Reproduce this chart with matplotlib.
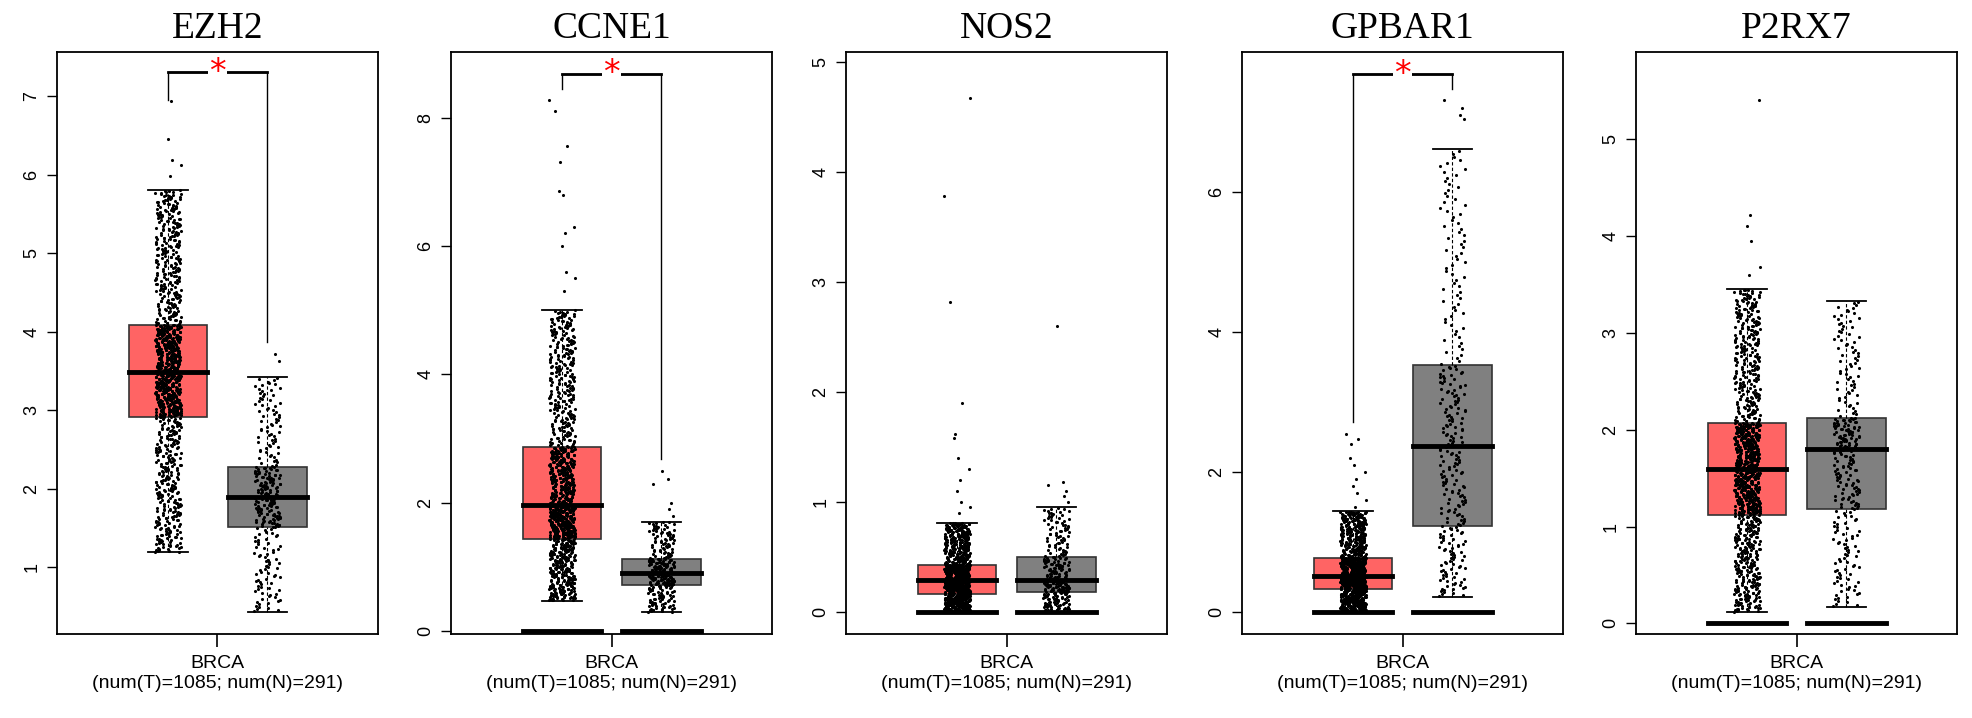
import numpy as np
import matplotlib
matplotlib.use("Agg")
import matplotlib.pyplot as plt

genes = ["EZH2", "CCNE1", "NOS2", "GPBAR1", "P2RX7"]
# five-number summaries: (low whisker, q1, median, q3, high whisker)
tumor_stats = [(1.19, 2.91, 3.49, 4.09, 5.80), (0.48, 1.44, 1.97, 2.87, 5.00),
               (0.0, 0.16, 0.29, 0.43, 0.81), (0.0, 0.33, 0.52, 0.78, 1.44),
               (0.12, 1.12, 1.59, 2.07, 3.45)]
normal_stats = [(0.43, 1.51, 1.90, 2.28, 3.42), (0.30, 0.72, 0.91, 1.13, 1.71),
                (0.0, 0.18, 0.29, 0.50, 0.95), (0.22, 1.23, 2.37, 3.53, 6.61),
                (0.17, 1.18, 1.80, 2.12, 3.33)]
tumor_outliers = [[6.94, 6.45, 6.18, 6.12, 5.98], [8.28, 8.1, 7.55, 7.3, 6.85, 6.8, 6.3, 6.2, 6.0, 5.6, 5.5, 5.3],
                  [4.67, 3.78, 2.82, 1.9, 1.62, 1.58, 1.4, 1.3, 1.2, 1.1, 1.0, 0.95, 0.9],
                  [2.54, 2.48, 2.4, 2.2, 2.1, 2.0, 1.9, 1.8, 1.7, 1.6, 1.5],
                  [5.40, 4.22, 4.1, 3.95, 3.68, 3.6]]
normal_outliers = [[3.72, 3.62], [2.5, 2.38, 2.3, 2.0, 1.9, 1.8],
                   [2.6, 1.18, 1.15, 1.1, 1.05, 1.0],
                   [7.31, 7.2, 7.1, 7.05], []]
tumor_zero = [False, True, True, True, True]
normal_zero = [False, True, True, True, True]
significant = [True, True, False, True, False]
bracket_y = [7.30, 8.68, None, 7.68, None]
bracket_left_end = [6.95, 8.45, None, 2.71, None]
bracket_right_end = [3.87, 2.69, None, 7.47, None]
ylims = [(0.15, 7.56), (-0.04, 9.02), (-0.2, 5.09), (-0.31, 8.0), (-0.11, 5.9)]
yticks = [[1, 2, 3, 4, 5, 6, 7], [0, 2, 4, 6, 8], [0, 1, 2, 3, 4, 5], [0, 2, 4, 6], [0, 1, 2, 3, 4, 5]]
n_tumor, n_normal = 1085, 291
xlabel = "BRCA\n(num(T)=1085; num(N)=291)"

pos_T, pos_N, bw = 0.346, 0.655, 0.245

def sample(stats, n, outl):
    lo, q1, med, q3, hi = stats
    p = (np.arange(n - len(outl)) + 0.5) / (n - len(outl))
    v = np.interp(p, [0, 0.25, 0.5, 0.75, 1.0], [lo, q1, med, q3, hi])
    return np.concatenate([v, outl])

fig = plt.figure(figsize=(19.72, 7.18), dpi=100)
lefts = [57, 451, 846, 1242, 1636]
top_px, bot_px = 52, 634
for i, g in enumerate(genes):
    ax = fig.add_axes([lefts[i] / 1972, 1 - bot_px / 718, 321 / 1972, (bot_px - top_px) / 718])
    for pos, st, n, outl, col, zero in [(pos_T, tumor_stats[i], n_tumor, tumor_outliers[i], "#ff6464", tumor_zero[i]),
                                       (pos_N, normal_stats[i], n_normal, normal_outliers[i], "#808080", normal_zero[i])]:
        lo, q1, med, q3, hi = st
        ax.add_patch(plt.Rectangle((pos - bw / 2, q1), bw, q3 - q1, facecolor=col, edgecolor="#333333", lw=1.2, zorder=1))
        ax.plot([pos - bw / 2, pos + bw / 2], [med, med], color="black", lw=3.5, zorder=3)
        ax.plot([pos, pos], [q3, hi], color="black", lw=0.8, ls=(0, (3, 2)), zorder=1)
        ax.plot([pos, pos], [lo, q1], color="black", lw=0.8, ls=(0, (3, 2)), zorder=1)
        ax.plot([pos - bw / 4, pos + bw / 4], [hi, hi], color="black", lw=1.3, zorder=3)
        ax.plot([pos - bw / 4, pos + bw / 4], [lo, lo], color="black", lw=1.3, zorder=3)
        if zero:
            ax.plot([pos - bw / 2, pos + bw / 2], [0, 0], color="black", lw=3.5, zorder=3)
        vals = sample(st, n, outl)
        k = np.arange(len(vals)).astype(float)
        u = (k * k * 0.6180339887 + k * 0.3183098862) % 1.0
        jit = (u - 0.5) * 0.08
        ax.scatter(pos + jit, vals, s=5, color="black", linewidths=0, zorder=2)
    if significant[i]:
        by = bracket_y[i]
        ax.plot([pos_T, pos_T, pos_N, pos_N], [bracket_left_end[i], by, by, bracket_right_end[i]],
                color="black", lw=1.0, zorder=4)
        ax.plot([pos_T, pos_N], [by, by], color="black", lw=2.0, zorder=4)
        ax.text(0.5, by, "*", color="red", fontsize=24, ha="center", va="center", zorder=5,
                bbox=dict(facecolor="white", edgecolor="none", pad=1))
    ax.set_xlim(0, 1)
    ax.set_ylim(*ylims[i])
    ax.set_yticks(yticks[i])
    ax.set_yticklabels([str(t) for t in yticks[i]], rotation=90, va="center", fontsize=13,
                       family="Liberation Sans")
    ax.set_xticks([0.5])
    ax.set_xticklabels([xlabel], fontsize=14, family="Liberation Sans", linespacing=1.25)
    ax.tick_params(axis="x", length=9, width=1.2, pad=6)
    ax.tick_params(axis="y", length=7, width=1, pad=5)
    for s in ax.spines.values():
        s.set_linewidth(1.3)
    ax.set_title(g, fontsize=27, family="Liberation Serif", pad=10)

fig.savefig("out.png", dpi=100)
